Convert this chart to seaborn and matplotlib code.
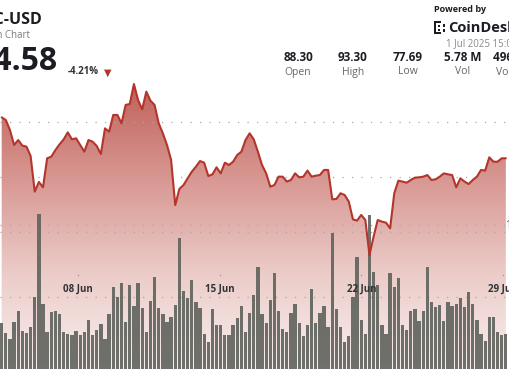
import numpy as np
import pandas as pd
import matplotlib
matplotlib.use("Agg")
import matplotlib.pyplot as plt
import matplotlib.dates as mdates
from matplotlib.colors import LinearSegmentedColormap
from matplotlib.patches import Rectangle
from matplotlib.transforms import blended_transform_factory
import seaborn as sns

# LTC-USD, ~5h candles
price = [90.42, 90.18, 89.27, 87.91, 88.36, 87.85, 87.76, 86.91, 83.67, 84.55,
         84.06, 86.70, 86.85, 87.45, 87.97, 88.42, 89.06, 88.42, 88.52, 87.91,
         87.30, 88.36, 88.21, 87.82, 87.09, 89.42, 89.12, 90.64, 90.64, 89.88,
         91.55, 91.64, 93.45, 92.00, 91.15, 92.76, 91.94, 91.55, 89.88, 88.97,
         87.91, 86.55, 82.45, 83.91, 84.27, 84.88, 85.48, 85.94, 86.45, 86.30,
         85.09, 85.24, 85.88, 85.33, 86.30, 86.09, 86.39, 87.00, 87.30, 88.36,
         88.97,
         88.42, 87.30, 86.09, 85.33, 84.12, 84.27, 85.03, 85.03, 84.58, 84.73,
         85.33, 84.97, 85.03, 85.58, 85.03, 85.12, 85.18, 85.64, 85.64, 82.97,
         83.00, 83.52, 83.36, 82.76, 81.15, 81.03, 81.55, 81.09, 77.91, 79.58,
         81.09, 80.94, 80.85, 80.33, 83.52, 84.67, 84.58, 84.48, 84.73, 84.94,
         84.97, 85.03, 85.18, 84.73, 84.79, 85.03, 85.33, 85.24, 85.18, 84.06,
         84.88, 84.58, 84.36, 84.73, 85.03, 85.64, 85.58, 86.79, 86.39, 86.39,
         86.70, 86.70]

volume = [0.317, 0.248, 0.206, 0.329, 0.405, 0.266, 0.252, 0.289, 0.502, 1.074,
          0.451, 0.259, 0.396, 0.405, 0.380, 0.255, 0.243, 0.238, 0.266, 0.234,
          0.255, 0.340, 0.238, 0.271, 0.313, 0.206, 0.380, 0.572, 0.498, 0.595,
          0.326, 0.581, 0.440, 0.600, 0.426, 0.259, 0.472, 0.641, 0.421, 0.382,
          0.326, 0.363, 0.444, 0.912, 0.542, 0.491, 0.616, 0.468, 0.426, 0.245,
          0.185, 0.419, 0.303, 0.308, 0.236, 0.238, 0.308, 0.356, 0.440, 0.259,
          0.391, 0.512,
          0.711, 0.380, 0.322, 0.479, 0.669, 0.403, 0.275, 0.259, 0.391, 0.449,
          0.322, 0.229, 0.306, 0.553, 0.322, 0.391, 0.438, 0.294, 0.942, 0.414,
          0.294, 0.190, 0.229, 0.502, 0.775, 0.340, 0.243, 1.069, 0.674, 0.581,
          0.303, 0.243, 0.664, 0.567, 0.634, 0.308, 0.271, 0.405, 0.417, 0.331,
          0.403, 0.711, 0.468, 0.433, 0.444, 0.331, 0.468, 0.438, 0.449, 0.495,
          0.433, 0.532, 0.451, 0.340, 0.243, 0.194, 0.363, 0.359, 0.255, 0.238,
          0.243, 0.306]

tick_days = ["2025-06-08", "2025-06-15", "2025-06-22", "2025-06-29"]
tick_labels = ["08 Jun", "15 Jun", "22 Jun", "29 Jun"]
price_grid = [80, 85, 90]
vol_grid = [0.5, 1.0]
stat_values = ["88.30", "93.30", "77.69", "5.78 M", "496.12 M"]
stat_names = ["Open", "High", "Low", "Vol", "Vol (USD)"]

n = min(len(price), len(volume))
times = pd.date_range("2025-06-04 05:30", periods=n, freq="294min")
df = pd.DataFrame({"time": mdates.date2num(times),
                   "price": price[:n], "volume": volume[:n]})
step = df["time"].diff().median()

sns.set_style("white")
plt.rcParams["font.family"] = ["Open Sans", "DejaVu Sans"]

W, H = 510, 369
def fx(x):
    return x / W
def fy(y):
    return 1 - y / H

fig = plt.figure(figsize=(5.1, 3.69), dpi=100)
ax = fig.add_axes([0, 0, 1, 1])
ax_vol = ax.twinx()
ax_line = ax.twinx()

pmin, pmax = 67.545, 101.09

# gradient area under the price line
poly = ax.fill_between(df["time"], df["price"], pmin, facecolor="none", edgecolor="none")
fade = LinearSegmentedColormap.from_list("fade", ["#f8efee", "#ebcbc7", "#d79590", "#bf5d56"])
grad = np.linspace(0, 1, 256).reshape(-1, 1)
img = ax.imshow(grad, cmap=fade, aspect="auto", origin="lower",
                extent=[0, 1, 0, 0.79], transform=ax.transAxes, zorder=1)
img.set_clip_path(poly.get_paths()[0], ax.transData)

for p in price_grid:
    ax.axhline(p, color="#a9a9a9", lw=0.9, ls=(0, (1, 6.6)), zorder=2)
for v in vol_grid:
    ax_vol.axhline(v, color="#a9a9a9", lw=0.9, ls=(0, (1, 6.6)), zorder=0)

ax_vol.bar(df["time"], df["volume"], width=step * 0.8, color="#5f625c",
           alpha=0.9, linewidth=0)

sns.lineplot(data=df, x="time", y="price", ax=ax_line, color="#b3352b",
             linewidth=1.5)

x0 = mdates.date2num(pd.Timestamp("2025-06-04 03:30"))
x1 = x0 + W / 20.24
for a in (ax, ax_vol, ax_line):
    a.set_xlim(x0, x1)
    a.axis("off")
ax.set_ylim(pmin, pmax)
ax_line.set_ylim(pmin, pmax)
ax_vol.set_ylim(0, H / 144)

# date ticks
trans = blended_transform_factory(ax_line.transData, ax_line.transAxes)
tick_x = mdates.date2num(pd.to_datetime(tick_days))
ax_line.scatter(tick_x, [fy(275)] * len(tick_x), transform=trans, s=1.2,
                color="#9a9a9a", linewidths=0)
for x, lab in zip(tick_x, tick_labels):
    ax_line.text(x, fy(289), lab, transform=trans, ha="center", va="center",
                 fontsize=7, fontweight="bold", color="#2f3438")
fig.text(fx(505), fy(225), "1M", ha="left", va="center", fontsize=7.5, color="#555555")

# header
fig.text(fx(42), fy(20), "LTC-USD", ha="right", va="center", fontsize=11.5,
         fontweight="bold", color="#1b1d22")
fig.text(fx(30), fy(36), "1 Month Chart", ha="right", va="center", fontsize=7,
         color="#7a7a7a")
fig.text(fx(58), fy(61), "84.58", ha="right", va="center", fontsize=23,
         fontweight="bold", color="#1b1d22")
fig.text(fx(68), fy(72), "-4.21%", ha="left", va="center", fontsize=7,
         fontweight="bold", color="#333333")
fig.text(fx(108), fy(72.5), "\u25BC", ha="center", va="center", fontsize=7,
         color="#b3352b", family="DejaVu Sans")
for i, (val, name) in enumerate(zip(stat_values, stat_names)):
    cx = 298 + 55 * i
    fig.text(fx(cx), fy(57.5), val, ha="center", va="center", fontsize=8.5,
             fontweight="bold", color="#1b1d22")
    fig.text(fx(cx), fy(72), name, ha="center", va="center", fontsize=7.5,
             color="#666666")

fig.text(fx(434), fy(9.5), "Powered by", ha="left", va="center", fontsize=6.5,
         fontweight="bold", color="#1b1d22")
fig.text(fx(448), fy(27.5), "CoinDesk", ha="left", va="center", fontsize=10.5,
         fontweight="bold", color="#1b1d22")
# logo mark: bracket of blocks plus two dots
logo_blocks = [(434, 21, 2.2, 13), (434, 21, 7, 2.2), (434, 31.8, 7, 2.2),
               (438, 25, 2, 2), (438, 29, 2, 2), (443, 24.5, 2, 2), (443, 29.5, 2, 2)]
for bx, by, bw, bh in logo_blocks:
    fig.patches.append(Rectangle((fx(bx), fy(by + bh)), bw / W, bh / H,
                                 transform=fig.transFigure, color="#1b1d22", lw=0))
fig.text(fx(446), fy(44), "1 Jul 2025 15:03", ha="left", va="center", fontsize=7,
         color="#8a8a8a")

fig.savefig("out.png", dpi=100)
